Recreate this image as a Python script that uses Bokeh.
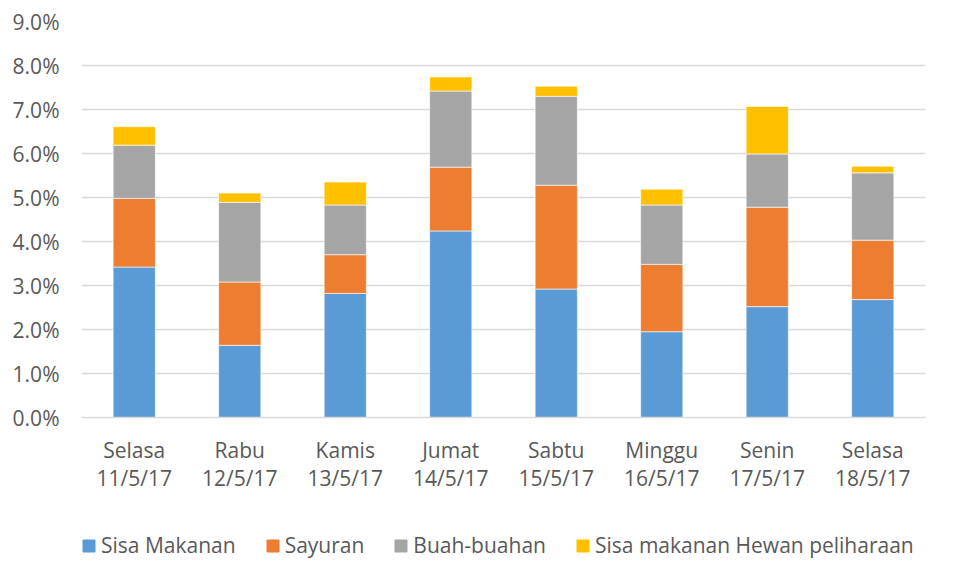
import numpy as np
from bokeh.plotting import figure
from bokeh.layouts import column
from bokeh.models import Range1d, NumeralTickFormatter, Legend, LegendItem
from bokeh.embed import file_html
from bokeh.resources import INLINE

days = ["Selasa\n11/5/17", "Rabu\n12/5/17", "Kamis\n13/5/17", "Jumat\n14/5/17",
        "Sabtu\n15/5/17", "Minggu\n16/5/17", "Senin\n17/5/17", "Selasa\n18/5/17"]
series_names = ["Sisa Makanan", "Sayuran", "Buah-buahan", "Sisa makanan Hewan peliharaan"]
# values in percent
sisa_makanan = [3.42, 1.64, 2.82, 4.24, 2.92, 1.95, 2.52, 2.68]
sayuran      = [1.56, 1.44, 0.88, 1.45, 2.36, 1.53, 2.26, 1.35]
buah_buahan  = [1.21, 1.81, 1.13, 1.73, 2.02, 1.35, 1.21, 1.53]
hewan        = [0.42, 0.21, 0.52, 0.32, 0.23, 0.36, 1.08, 0.15]
colors = ["#5B9BD5", "#ED7D31", "#A5A5A5", "#FFC000"]

keys = ["s0", "s1", "s2", "s3"]
data = {"x": days}
for k, vals in zip(keys, [sisa_makanan, sayuran, buah_buahan, hewan]):
    data[k] = list(np.array(vals) / 100.0)

FONT = "Open Sans"
TXT = "#595959"
GRID = "#d9d9d9"

p = figure(x_range=days, width=943, height=510, output_backend="svg",
           toolbar_location=None, min_border_left=81, min_border_right=18,
           min_border_top=21, min_border_bottom=93)
p.y_range = Range1d(0, 0.09)
p.outline_line_color = None

renderers = p.vbar_stack(keys, x="x", width=0.4, source=data, color=colors,
                         line_color="white", line_width=0.6)

p.yaxis.formatter = NumeralTickFormatter(format="0.0%")
p.yaxis.ticker = [i / 100 for i in range(0, 10)]
p.yaxis.axis_line_color = None
p.yaxis.major_tick_line_color = None
p.yaxis.minor_tick_line_color = None
p.yaxis.major_tick_out = 0
p.yaxis.major_label_standoff = 22
p.yaxis.major_label_text_font = FONT
p.yaxis.major_label_text_font_size = "21px"
p.yaxis.major_label_text_color = TXT

p.xaxis.axis_line_color = GRID
p.xaxis.axis_line_width = 1.5
p.xaxis.major_tick_line_color = None
p.xaxis.minor_tick_line_color = None
p.xaxis.major_tick_out = 0
p.xaxis.major_label_standoff = 18
p.xaxis.major_label_text_font = FONT
p.xaxis.major_label_text_font_size = "21px"
p.xaxis.major_label_text_color = TXT
p.xaxis.major_label_text_line_height = 1.0

p.xgrid.grid_line_color = None
p.ygrid.grid_line_color = GRID
p.ygrid.grid_line_width = 1.5

# legend strip below the chart (its bars lie outside its visible y range)
pl = figure(width=943, height=60, output_backend="svg", toolbar_location=None,
            x_range=days, y_range=Range1d(1, 2),
            x_axis_location=None, y_axis_location=None,
            min_border=0, outline_line_color=None)
pl.grid.visible = False
leg_r = pl.vbar_stack(keys, x="x", width=0.4, source=data, color=colors)
legend = Legend(items=[LegendItem(label=n, renderers=[r]) for n, r in zip(series_names, leg_r)],
                orientation="horizontal", location=(0, 11),
                label_text_font=FONT, label_text_font_size="21px", label_text_color=TXT,
                glyph_width=15, glyph_height=15, label_standoff=5, spacing=29,
                padding=0, border_line_color=None, background_fill_alpha=0)
pl.add_layout(legend)

layout = column(p, pl, spacing=0)
open("out.html", "w").write(file_html(layout, INLINE))
